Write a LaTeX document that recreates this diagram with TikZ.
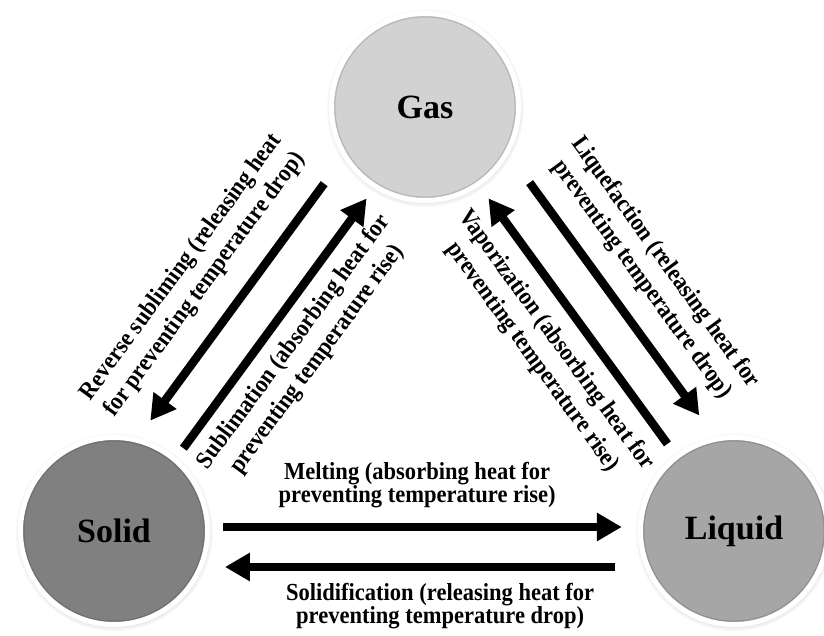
\documentclass[tikz,border=0pt]{standalone}
\usepackage{fontspec}
\setmainfont{Liberation Serif}
\usetikzlibrary{arrows.meta,calc,shadows}
\definecolor{gasgrey}{RGB}{210,210,210}
\definecolor{solidgrey}{RGB}{128,128,128}
\definecolor{liquidgrey}{RGB}{166,166,166}
\tikzset{
  phase/.style={
    circle,
    draw=white,
    line width=5pt,
    minimum size=187pt,
    inner sep=0pt,
    font=\bfseries\fontsize{34}{40}\selectfont,
    circular drop shadow={shadow scale=1.06, shadow xshift=0pt, shadow yshift=-1pt, fill=black, opacity=0.25},
    path picture={\draw[black, opacity=0.12, line width=8pt] (path picture bounding box.center) circle (93.5pt);}
  },
  gasphase/.style={phase, fill=gasgrey},
  solidphase/.style={phase, fill=solidgrey},
  liquidphase/.style={phase, fill=liquidgrey},
  bigarrow/.style={-{Triangle[length=25pt,width=27pt]}, line width=8.5pt, draw=black},
  steplabel/.style={align=center, font=\bfseries\fontsize{24.5}{29}\selectfont, inner sep=0pt},
  narrowtext/.style={xscale=0.92, transform shape},
  flatlabel/.style={steplabel, font=\bfseries\fontsize{24.5}{23.5}\selectfont, narrowtext},
}

\begin{document}
\begin{tikzpicture}[x=1pt, y=-1pt]
\useasboundingbox (0,0) rectangle (824,636);

% Phases
\node[gasphase] (gas) at (425,107) {Gas};
\node[solidphase] (solid) at (114,531) {Solid};
\node[liquidphase] (liquid) at (734,531) {Liquid};

% Gas <-> solid
\draw[bigarrow] ($(gas)!0.231!(solid)!36pt!-90:(solid)$) -- ($(gas)!0.790!(solid)!36pt!-90:(solid)$);
\draw[bigarrow] ($(gas)!0.795!(solid)!7pt!90:(solid)$) -- ($(gas)!0.206!(solid)!7pt!90:(solid)$);
\node[steplabel, rotate=53.7, narrowtext] (revlbl) at ($(gas)!0.520!(solid)!87pt!-90:(solid)$) {Reverse subliming (releasing heat\\for preventing temperature drop)};
\node[steplabel, rotate=53.7, narrowtext] (sublbl) at ($(gas)!0.508!(solid)!48pt!90:(solid)$) {Sublimation (absorbing heat for\\preventing temperature rise)};

% Gas <-> liquid
\draw[bigarrow] ($(gas)!0.234!(liquid)!40pt!90:(liquid)$) -- ($(gas)!0.783!(liquid)!40pt!90:(liquid)$);
\draw[bigarrow] ($(gas)!0.791!(liquid)!2.5pt!-90:(liquid)$) -- ($(gas)!0.212!(liquid)!2.5pt!-90:(liquid)$);
\node[steplabel, rotate=-53.9, narrowtext] (liqlbl) at ($(gas)!0.509!(liquid)!88pt!90:(liquid)$) {Liquefaction (releasing heat for\\preventing temperature drop)};
\node[steplabel, rotate=-53.9, narrowtext] (vaplbl) at ($(gas)!0.506!(liquid)!46pt!-90:(liquid)$) {Vaporization (absorbing heat for\\preventing temperature rise)};

% Solid <-> liquid
\draw[bigarrow] ($(solid)!0.176!(liquid)!4pt!90:(liquid)$) -- ($(solid)!0.819!(liquid)!4pt!90:(liquid)$);
\draw[bigarrow] ($(solid)!0.808!(liquid)!36pt!-90:(liquid)$) -- ($(solid)!0.179!(liquid)!36pt!-90:(liquid)$);
\node[flatlabel] (meltlbl) at ($(solid)!0.489!(liquid)!46pt!90:(liquid)$) {Melting (absorbing heat for\\preventing temperature rise)};
\node[flatlabel] (solidlbl) at ($(solid)!0.526!(liquid)!75pt!-90:(liquid)$) {Solidification (releasing heat for\\preventing temperature drop)};

\end{tikzpicture}
\end{document}
